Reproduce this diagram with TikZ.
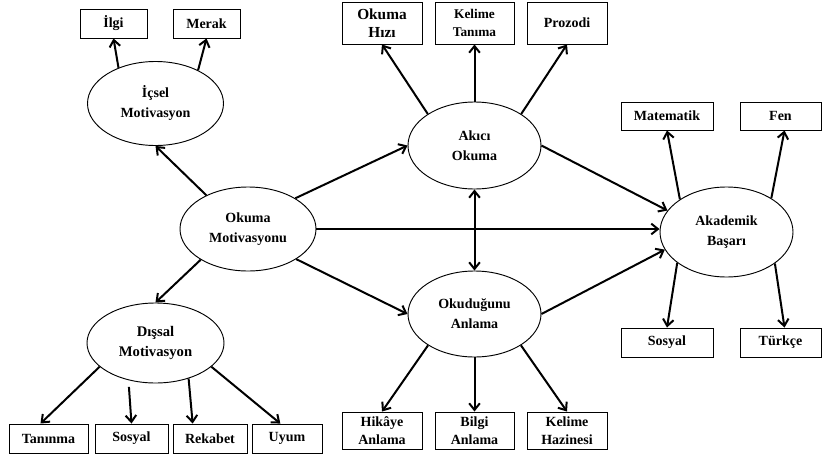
\documentclass[tikz,border=0pt]{standalone}
\usepackage{fontspec}
\setmainfont{Liberation Serif}
\usetikzlibrary{shapes.geometric,arrows.meta}

\begin{document}
\begin{tikzpicture}[x=0.75pt, y=-0.75pt,
    latent/.style={draw, ellipse, line width=0.7pt, inner sep=0pt, align=center,
        font=\bfseries\fontsize{10.5}{15}\selectfont},
    indicator/.style={draw, rectangle, line width=0.7pt, inner sep=0pt, align=center,
        font=\bfseries\fontsize{10.5}{13.5}\selectfont},
    link/.style={-{Straight Barb[length=5pt,width=8pt]}, line width=1.5pt},
    bilink/.style={{Straight Barb[length=5pt,width=8pt]}-{Straight Barb[length=5pt,width=8pt]}, line width=1.5pt}]
    \useasboundingbox (0,0) rectangle (822,457);

    % latent variables
    \node[latent, minimum width=102pt, minimum height=63pt] (om) at (248,229) {Okuma\\Motivasyonu};
    \node[latent, minimum width=102pt, minimum height=63pt] (icsel) at (155.5,103.5) {İçsel\\Motivasyon};
    \node[latent, minimum width=102.75pt, minimum height=60pt, font=\bfseries\fontsize{11}{15}\selectfont] (dissal) at (155.5,343) {Dışsal\\Motivasyon};
    \node[latent, minimum width=99.75pt, minimum height=65.25pt] (akici) at (474.5,145.5) {Akıcı\\Okuma};
    \node[latent, minimum width=99.75pt, minimum height=64.5pt] (okud) at (474.5,314) {Okuduğunu\\Anlama};
    \node[latent, minimum width=99.75pt, minimum height=67.5pt] (akademik) at (726.5,232) {Akademik\\Başarı};

    % indicators
    \node[indicator, minimum width=50.25pt, minimum height=21.75pt] (ilgi) at (113.5,23.5) {İlgi};
    \node[indicator, minimum width=50.25pt, minimum height=21.75pt] (merak) at (206.5,23.5) {Merak};
    \node[indicator, minimum width=59.25pt, minimum height=21.75pt] (tanima) at (48.5,438.5) {Tanınma};
    \node[indicator, minimum width=54.75pt, minimum height=21.75pt] (sosyal) at (131.5,438.5) {Sosyal};
    \node[indicator, minimum width=55.5pt, minimum height=21.75pt] (rekabet) at (210,438.5) {Rekabet};
    \node[indicator, minimum width=52.5pt, minimum height=21.75pt] (uyum) at (287,438.5) {Uyum};
    \node[indicator, minimum width=60pt, minimum height=31.5pt, font=\bfseries\fontsize{11.5}{13.5}\selectfont] (hiz) at (382,23) {Okuma\\Hızı};
    \node[indicator, minimum width=59.25pt, minimum height=31.5pt, font=\bfseries\fontsize{10}{13.5}\selectfont] (kelime) at (474.5,23) {Kelime\\Tanıma};
    \node[indicator, minimum width=60pt, minimum height=31.5pt] (prozodi) at (567,23) {Prozodi};
    \node[indicator, minimum width=60pt, minimum height=27.75pt] (hikaye) at (382,430.5) {Hikâye\\Anlama};
    \node[indicator, minimum width=59.25pt, minimum height=27.75pt] (bilgi) at (474.5,430.5) {Bilgi\\Anlama};
    \node[indicator, minimum width=60pt, minimum height=27.75pt] (hazine) at (567,430.5) {Kelime\\Hazinesi};
    \node[indicator, minimum width=69pt, minimum height=21pt] (mat) at (667,116) {Matematik};
    \node[indicator, minimum width=60.75pt, minimum height=21pt] (fen) at (780.5,116) {Fen};
    \node[indicator, minimum width=69pt, minimum height=21.75pt] (sosyal2) at (667,342.5) {Sosyal};
    \node[indicator, minimum width=60.75pt, minimum height=21.75pt] (turkce) at (780.5,342.5) {Türkçe};

    % paths
    \draw[link] (om.141) -- (icsel.south);
    \draw[link] (om.213) -- (dissal.north);
    \draw[link] (om.33) -- (akici.west);
    \draw[link] (om.east) -- (om.east -| akademik.west);
    \draw[link] (om.328) -- (okud.west);
    \draw[bilink] (akici.south) -- (okud.north);
    \draw[link] (akici.east) -- (akademik.160);
    \draw[link] (okud.east) -- (akademik.196);

    % measurement
    \draw[link] (icsel.136) -- (ilgi.south);
    \draw[link] (icsel.38) -- (merak.south);
    \draw[link] (dissal.203) -- ([xshift=-6pt]tanima.north);
    \draw[link, shorten <=5pt] (dissal.234) -- (sosyal.north);
    \draw[link] (dissal.313) -- ([xshift=-13pt]rekabet.north);
    \draw[link] (dissal.337) -- ([xshift=-5pt]uyum.north);
    \draw[link] (akici.146) -- (hiz.south);
    \draw[link] (akici.north) -- (kelime.south);
    \draw[link] (akici.34) -- (prozodi.south);
    \draw[link] (okud.214) -- (hikaye.north);
    \draw[link] (okud.south) -- (bilgi.north);
    \draw[link] (okud.326) -- (hazine.north);
    \draw[link] (akademik.145) -- (mat.south);
    \draw[link] (akademik.37) -- ([xshift=3pt]fen.south);
    \draw[link] (akademik.212) -- (sosyal2.north);
    \draw[link] (akademik.327) -- ([xshift=3pt]turkce.north);
\end{tikzpicture}
\end{document}
